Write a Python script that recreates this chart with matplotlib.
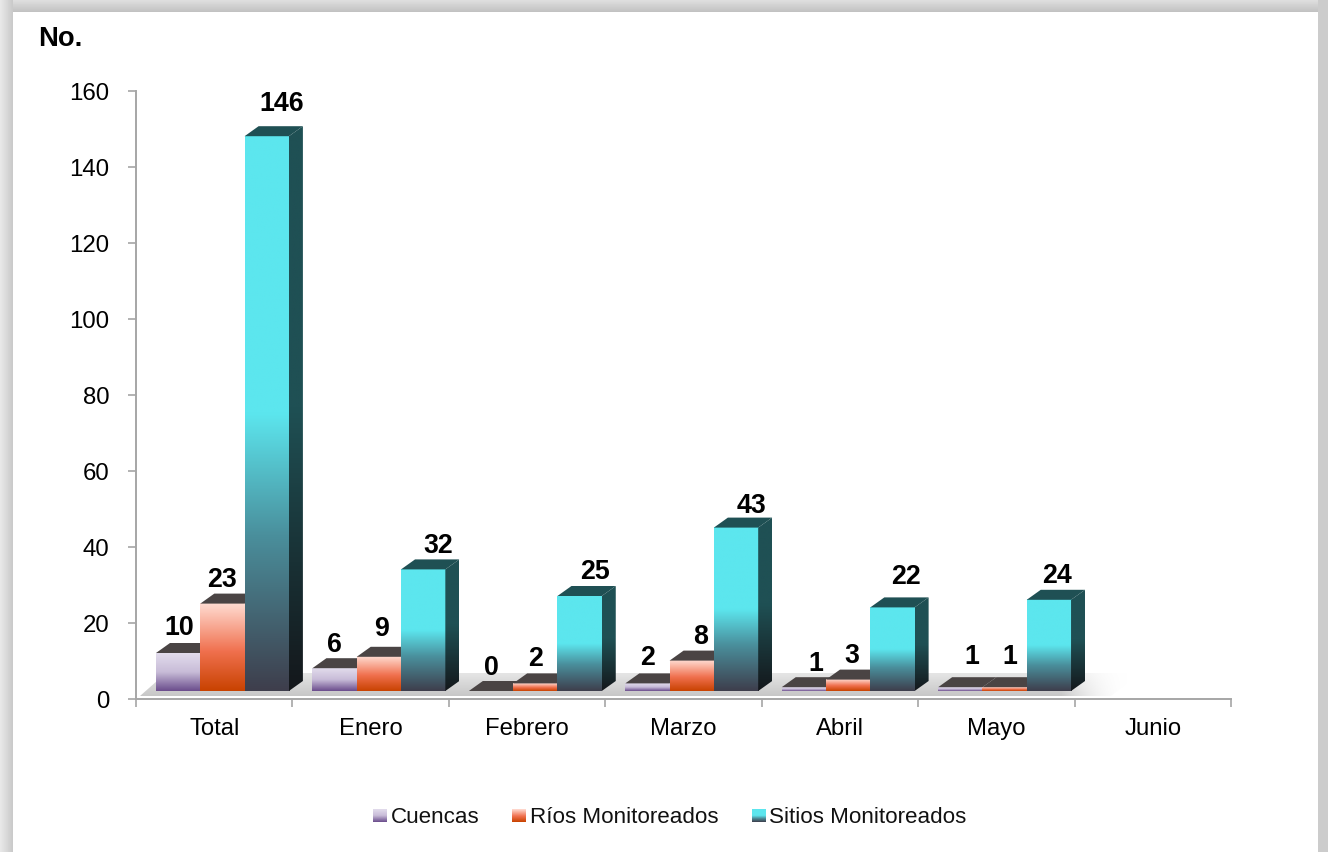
#!/usr/bin/env python
# -*- coding: utf-8 -*-
import matplotlib
matplotlib.use("Agg")
import matplotlib.pyplot as plt
import numpy as np
from matplotlib.colors import LinearSegmentedColormap
from matplotlib.patches import Polygon

W, H = 1328, 853
months = ["Total", "Enero", "Febrero", "Marzo", "Abril", "Mayo", "Junio"]
cuencas = [10, 6, 0, 2, 1, 1, None]
rios = [23, 9, 2, 8, 3, 1, None]
sitios = [146, 32, 25, 43, 22, 24, None]
series_names = ["Cuencas", "Ríos Monitoreados", "Sitios Monitoreados"]
yticks = [0, 20, 40, 60, 80, 100, 120, 140, 160]

# label nudges in pixels, the source placed these by hand
label_dx = [[1, 0, 0, 0, 12, 12, 0], [0, 3, 0, 9, 4, 5, 0], [15, 15, 15, 15, 14, 8, 0]]
label_dy = [[16, 14, 14, 16, 14, 21, 0], [15, 19, 15, 15, 15, 21, 0], [23, 14, 15, 13, 21, 15, 0]]

plt.rcParams["font.family"] = ["Liberation Sans", "DejaVu Sans"]

# colours run top of bar -> bottom of bar
cm_c = LinearSegmentedColormap.from_list("c", [(0, "#e2dcec"), (.5, "#c8bcd8"), (1, "#6a4c8c")])
cm_r = LinearSegmentedColormap.from_list("r", [(0, "#ffdcd2"), (.55, "#f0704e"), (1, "#c84200")])
cm_s = LinearSegmentedColormap.from_list("s", [(0, "#5ce6ee"), (.5, "#5ce6ee"), (.72, "#4a8f9c"), (1, "#3e3e4c")])
cm_side = LinearSegmentedColormap.from_list("sd", [(0, "#1f5054"), (.5, "#1f5054"), (1, "#14171b")])
cmaps = [cm_c, cm_r, cm_s]
tops = ["#4a4444", "#4a4444", "#1f5054"]

fig = plt.figure(figsize=(W / 100, H / 100), dpi=100, facecolor="white")

# page background: white panel, grey band left/top/right
page = np.ones((H, W))
page[:, :13] = np.linspace(.91, .79, 13)
page[:13, 13:] = np.linspace(.88, .76, 13).reshape(-1, 1)
page[:, 1318:] = .80
bg = fig.add_axes([0, 0, 1, 1], zorder=0)
bg.imshow(page, cmap="gray", vmin=0, vmax=1, aspect="auto", interpolation="nearest")
bg.axis("off")

# plot area in pixels
L, R, Y0, Y160 = 136, 1231, 700, 92
ax = fig.add_axes([L / W, 1 - Y0 / H, (R - L) / W, (Y0 - Y160) / H], zorder=1)
ax.patch.set_alpha(0)
ax.set_xlim(-.5, 6.5); ax.set_ylim(0, 160)
px = 7 / (R - L); py = 160 / (Y0 - Y160)  # data units per pixel

# 3D offsets in pixels turned into data units
lift = 8 * py
dx = 14 * px; dy = 10 * py
bw = 44.3 * px

# floor, fades out on the right
floor = Polygon([(-.5 + 4 * px, 3 * py), (-.5 + 975 * px, 3 * py),
                 (-.5 + 1005 * px, 26 * py), (-.5 + 30 * px, 26 * py)], closed=True, fc="none", ec="none")
ax.add_patch(floor)
grad = np.ones((64, 512, 4))
grad[..., :3] = np.linspace(.90, .78, 64).reshape(-1, 1, 1)
fade = np.clip((1 - np.linspace(0, 1, 512)) / .07, 0, 1) ** 2
grad[..., 3] = fade.reshape(1, -1)
im = ax.imshow(grad, extent=(-.5, -.5 + 995 * px, 3 * py, 26 * py), aspect="auto", zorder=1, interpolation="bilinear")
im.set_clip_path(floor)

for s, vals in enumerate([cuencas, rios, sitios]):
    for i, v in enumerate(vals):
        if v is None:
            continue
        x0 = i - .5 + 20 * px + s * bw
        x1 = x0 + bw
        y0 = lift; y1 = lift + v
        z = 3 + s
        # front face
        g = np.linspace(0, 1, 256).reshape(-1, 1)
        ax.imshow(g, extent=(x0, x1, y0, y1), cmap=cmaps[s], vmin=0, vmax=1, aspect="auto", zorder=z, interpolation="bilinear")
        # top face
        ax.add_patch(Polygon([(x0, y1), (x1, y1), (x1 + dx, y1 + dy), (x0 + dx, y1 + dy)], fc=tops[s], ec="none", zorder=z))
        if s == 2:
            side = Polygon([(x1, y0), (x1 + dx, y0 + dy), (x1 + dx, y1 + dy), (x1, y1)], fc="none", ec="none")
            ax.add_patch(side)
            im2 = ax.imshow(g, extent=(x1, x1 + dx, y0, y1 + dy), cmap=cm_side, vmin=0, vmax=1, aspect="auto", zorder=z, interpolation="bilinear")
            im2.set_clip_path(side)
        ax.text((x0 + x1) / 2 + label_dx[s][i] * px, y1 + dy + label_dy[s][i] * py, str(v), ha="center", va="center",
                fontsize=19.3, fontweight="bold", color="black", zorder=8)

ax.set_xlim(-.5, 6.5); ax.set_ylim(0, 160)
for sp in ["top", "right"]:
    ax.spines[sp].set_visible(False)
for sp in ["left", "bottom"]:
    ax.spines[sp].set_color("#a6a6a6"); ax.spines[sp].set_linewidth(1.4)
ax.set_yticks(yticks)
ax.tick_params(axis="y", length=5.5, width=1.2, color="#a6a6a6", labelsize=17.3, pad=13.5, direction="out")
ax.set_xticks(np.arange(-.5, 7))
ax.set_xticklabels([])
ax.tick_params(axis="x", length=5.5, width=1.2, color="#a6a6a6", direction="out")
ax.set_xticks(np.arange(7), labels=months, minor=True)
ax.tick_params(axis="x", which="minor", length=0, labelsize=17.2, pad=13.2)

fig.text(38 / W, 1 - 38.5 / H, "No.", fontsize=19.7, fontweight="bold", va="center")

# legend by hand so the swatches can carry the gradient
leg = fig.add_axes([0, 0, 1, 1], zorder=2)
leg.patch.set_alpha(0)
for name, cm, sx, tx in zip(series_names, cmaps, [373, 512, 752], [391, 530, 769]):
    g = np.linspace(0, 1, 64).reshape(-1, 1)
    leg.imshow(g, extent=(sx, sx + 14, 823, 810), cmap=cm, vmin=0, vmax=1, aspect="auto")
    leg.text(tx, 818, name, fontsize=16.1, va="center", ha="left", color="#111111")
leg.set_xlim(0, W); leg.set_ylim(H, 0); leg.axis("off")

fig.savefig("out.png", dpi=100, facecolor=fig.get_facecolor())
